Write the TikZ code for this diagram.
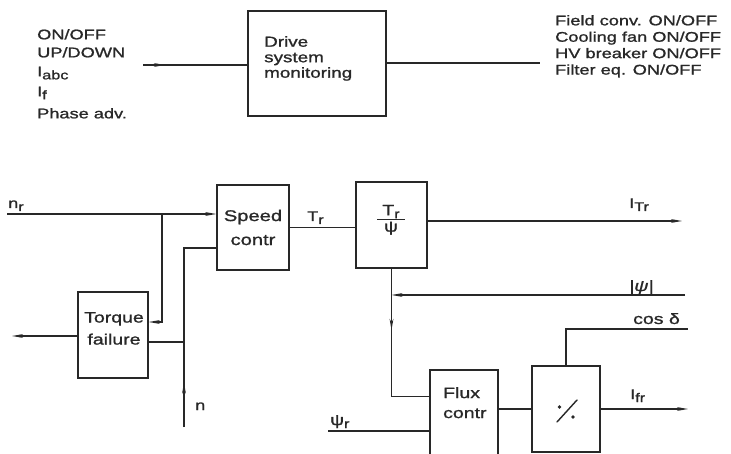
\documentclass[tikz,border=0pt]{standalone}
\usepackage{fontspec}
\setmainfont{Liberation Sans}[FakeStretch=1.3,FakeBold=1.2]
\usetikzlibrary{arrows.meta,decorations.markings}
\definecolor{ink}{RGB}{40,40,40}
\newcommand\lowsub[1]{\raisebox{-3bp}{\fontsize{12.5bp}{12.5bp}\selectfont #1}}
\tikzset{
  every node/.style={font=\fontsize{14bp}{17bp}\selectfont, text=ink, inner sep=0pt},
  box/.style={draw=ink, line width=1.4bp, inner sep=0pt, align=center},
  wire/.style={draw=ink, line width=1.4bp},
  tipend/.style={-{Stealth[length=11bp,width=3.8bp]}},
  flowmark/.style={postaction={decorate},decoration={markings,
      mark=at position #1 with {\arrow{Stealth[length=11bp,width=3.8bp]}}}},
  lbl/.style={anchor=base west},
}
\begin{document}
\begin{tikzpicture}[x=1bp,y=-1bp]
\clip (0,0) rectangle (731,454);
\fill[white] (0,0) rectangle (731,454);

% ---------- top: drive system monitoring ----------
\node[box, minimum width=138bp, minimum height=105bp] (mon) at (317,63.5) {};
\node[anchor=north west, align=left, font=\fontsize{14.5bp}{15.5bp}\selectfont] (montext) at (264,36) {Drive\\system\\monitoring};
\node[anchor=north west, align=left, font=\fontsize{14bp}{18bp}\selectfont] (inlist) at (37,29)
  {ON/OFF\\UP/DOWN\\[1bp]I\lowsub{abc}\\[2bp]I\lowsub{f}\\[4bp]Phase adv.};
\node[anchor=north west, align=left, font=\fontsize{14bp}{16.4bp}\selectfont] (outlist) at (555,15)
  {Field conv. ON/OFF\\Cooling fan ON/OFF\\HV breaker ON/OFF\\Filter eq. ON/OFF};
\coordinate (inL) at (143,65);
\coordinate (outR) at (540,63);
\draw[wire, flowmark=0.21] (inL) -- (inL -| mon.west);
\draw[wire] (mon.east |- outR) -- (outR);

% ---------- bottom: control scheme ----------
\node[box, minimum width=72bp, minimum height=85bp, font=\fontsize{15.5bp}{24bp}\selectfont] (spd) at (253,227.5) {Speed\\contr};
\node[box, minimum width=70bp, minimum height=86bp] (tq) at (113,335) {};
\node[anchor=north, align=center, font=\fontsize{15bp}{22bp}\selectfont] (tqtext) at (114,312) {Torque\\failure};
\node[box, minimum width=71bp, minimum height=86bp] (tpsi) at (391.5,225) {};
\node[font=\fontsize{15bp}{17bp}\selectfont] (frac) at (391,220) {\begin{tabular}{@{\hspace{5bp}}c@{\hspace{5bp}}}T\lowsub{r}\\[-1bp]\hline ψ\end{tabular}};
\node[box, minimum width=68bp, minimum height=92bp] (flux) at (464,416) {};
\node[anchor=north west, align=left, font=\fontsize{15bp}{20bp}\selectfont] (fluxtext) at (443,387) {Flux\\contr};
\node[box, minimum width=68bp, minimum height=86bp] (div) at (566,409) {};
\draw[wire, line cap=round] (557,422) -- (577,400);
\fill[ink] (559.5,407) circle (1.9bp);
\fill[ink] (573,417) circle (1.9bp);

% coordinates
\coordinate (nr0) at (7,214);
\coordinate (j1) at (162,214);
\coordinate (tqin) at ([yshift=13bp]tq.east);
\coordinate (nbot) at (184,427);
\coordinate (j2) at (184,342);
\coordinate (spdin2) at ([yshift=-20.5bp]spd.west);
\coordinate (tqout) at (12,336);
\coordinate (itr) at (682,221);
\coordinate (psiR) at (685,295);
\coordinate (fluxin) at ([yshift=-27bp]flux.north west);
\coordinate (psir) at (328,431);
\coordinate (ifr) at (688,408);
\coordinate (cosd) at (688,329);

% connectors
\draw[wire, tipend] (nr0) -- (nr0 -| spd.west);
\draw[wire, tipend] (j1) -- (j1 |- tqin) -- (tqin);
\draw[wire, flowmark=0.21] (nbot) -- (nbot |- spdin2) -- (spdin2);
\draw[wire] (tq.east |- j2) -- (j2);
\draw[wire, tipend] (tq.west |- tqout) -- (tqout);
\draw[wire] (spd.east) -- (spd.east -| tpsi.west);
\draw[wire, tipend] (tpsi.east |- itr) -- (itr);
\draw[wire, tipend] (psiR) -- (tpsi.south |- psiR);
\draw[wire, flowmark=0.37] (tpsi.south) -- (tpsi.south |- fluxin) -- (fluxin);
\draw[wire] (psir) -- (psir -| flux.west);
\draw[wire] (flux.east |- div.west) -- (div.west);
\draw[wire, tipend] (div.east) -- (div.east -| ifr);
\draw[wire] (div.north) -- (div.north |- cosd) -- (cosd);

% labels
\node[lbl] (lnr) at (8,208) {n\lowsub{r}};
\node[lbl] (ltr) at (307,221) {T\lowsub{r}};
\node[lbl] (litr) at (629,208) {I\lowsub{Tr}};
\node[lbl, font=\fontsize{15bp}{17bp}\selectfont] (lpsi) at (629,291) {\itshape |ψ|};
\node[lbl, font=\fontsize{15bp}{17bp}\selectfont] (lcos) at (633,324) {cos δ};
\node[lbl] (lifr) at (630,399) {I\lowsub{fr}};
\node[lbl, font=\fontsize{15bp}{17bp}\selectfont] (lpsir) at (330,425) {ψ\lowsub{r}};
\node[lbl] (ln) at (195,410) {n};
\end{tikzpicture}
\end{document}
